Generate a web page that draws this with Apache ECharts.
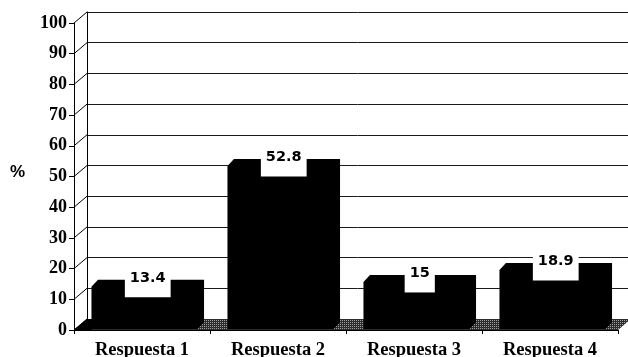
<!DOCTYPE html>
<html>
<head>
<meta charset="utf-8">
<script src="https://cdn.jsdelivr.net/npm/echarts@6/dist/echarts.min.js"></script>
<style>
  html, body { margin: 0; padding: 0; background: #fff; }
  #chart { width: 628px; height: 357px; }
</style>
</head>
<body>
<div id="chart"></div>
<script>
// Answers and their share in percent
const categories = ['Respuesta 1', 'Respuesta 2', 'Respuesta 3', 'Respuesta 4'];
const percents = [13.4, 52.8, 15, 18.9];
const percentLabels = ['13.4', '52.8', '15', '18.9'];
const yTicks = [0, 10, 20, 30, 40, 50, 60, 70, 80, 90, 100];

// Pseudo-3D projection: offset from the front plane to the back wall,
// and depth of each block.
const WALL_DX = 13, WALL_DY = -11;
const BAR_DX = 6.5, BAR_DY = -7;

function floorPattern() {
  const c = document.createElement('canvas');
  c.width = 2; c.height = 2;
  const g = c.getContext('2d');
  g.fillStyle = '#2c2c2c';
  g.fillRect(0, 0, 2, 2);
  g.fillStyle = '#a0a0a0';
  g.fillRect(0, 0, 1, 1);
  return c;
}

const chart = echarts.init(document.getElementById('chart'), null, { renderer: 'canvas' });

const serifBold = { fontFamily: '"Liberation Serif", "Times New Roman", serif', fontWeight: 'bold', color: '#000' };

function barFrontLeft(api, i) {
  const c = api.coord([i, 0]);
  const bw = api.size([1, 0])[0];
  const w = bw * 0.78;
  return { left: c[0] - w / 2 + 2.5, width: w, base: c[1] };
}

const option = {
  animation: false,
  backgroundColor: '#fff',
  grid: [
    { left: 74, right: 10, top: 23, bottom: 27, outerBoundsMode: 'none', containLabel: false },   // front plane
    { left: 87, right: 0, top: 12, bottom: 38, outerBoundsMode: 'none', containLabel: false }     // back wall
  ],
  xAxis: [
    {
      type: 'category', gridIndex: 0, data: categories,
      axisLine: { show: true, lineStyle: { color: '#000', width: 1 } },
      axisTick: { show: true, interval: 0, length: 4, lineStyle: { color: '#000' } },
      axisLabel: Object.assign({ fontSize: 18.5, margin: 11, interval: 0 }, serifBold),
      splitLine: { show: false }
    },
    {
      type: 'category', gridIndex: 1, data: categories, show: false
    }
  ],
  yAxis: [
    {
      type: 'value', gridIndex: 0, min: 0, max: 100, interval: 10,
      axisLine: { show: true, lineStyle: { color: '#000', width: 1 } },
      axisTick: { show: true, length: 5, lineStyle: { color: '#000' } },
      axisLabel: Object.assign({ fontSize: 18, margin: 7 }, serifBold),
      splitLine: { show: false }
    },
    {
      type: 'value', gridIndex: 1, min: 0, max: 100, interval: 10,
      axisLine: { show: true, lineStyle: { color: '#000', width: 1 } },
      axisTick: { show: false },
      axisLabel: { show: false },
      splitLine: { show: true, lineStyle: { color: '#1a1a1a', width: 1 } }
    }
  ],
  graphic: [
    {
      type: 'text', left: 10, top: 164,
      style: { text: '%', font: 'bold 17px "Liberation Sans", Arial, sans-serif', fill: '#000' }
    }
  ],
  series: [
    {
      // floor of the chart box
      type: 'custom', name: 'floor', xAxisIndex: 0, yAxisIndex: 0,
      data: [[0, 0]],
      z: 1,
      renderItem: function (params, api) {
        const cs = params.coordSys;
        const y0 = api.coord([0, 0])[1];
        const x0 = cs.x, x1 = cs.x + cs.width;
        const first = barFrontLeft(api, 0);
        return {
          type: 'group',
          children: [
            {
              type: 'polygon',
              shape: { points: [[x0, y0], [x1, y0], [x1 + WALL_DX, y0 + WALL_DY], [x0 + WALL_DX, y0 + WALL_DY]] },
              style: { fill: { image: floorPattern(), repeat: 'repeat' }, stroke: null }
            },
            {
              type: 'polygon',
              shape: { points: [[x0, y0], [first.left, y0], [first.left + BAR_DX, y0 + WALL_DY], [x0 + WALL_DX, y0 + WALL_DY]] },
              style: { fill: '#000' }
            }
          ]
        };
      }
    },
    {
      // edges joining the front value axis to the back wall
      type: 'custom', name: 'wallEdges', xAxisIndex: 0, yAxisIndex: 0,
      data: yTicks.map(function (v) { return [0, v]; }),
      z: 2,
      renderItem: function (params, api) {
        const x0 = params.coordSys.x;
        const y = api.coord([0, api.value(1)])[1];
        return {
          type: 'line',
          shape: { x1: x0, y1: y, x2: x0 + WALL_DX, y2: y + WALL_DY },
          style: { stroke: '#000', lineWidth: 1 }
        };
      }
    },
    {
      // blocks with their value tags
      type: 'custom', name: 'percent', xAxisIndex: 0, yAxisIndex: 0,
      data: percents.map(function (v, i) { return [i, v]; }),
      z: 3,
      renderItem: function (params, api) {
        const i = api.value(0);
        const v = api.value(1);
        const f = barFrontLeft(api, i);
        const top = api.coord([i, v])[1] - 2;
        const bottom = f.base - 1;
        const l = f.left, r = f.left + f.width;
        const silTop = top + BAR_DY;
        const cx = (l + r + BAR_DX) / 2;
        const textCenter = silTop - 1.5;
        return {
          type: 'group',
          children: [
            {
              type: 'polygon',
              shape: {
                points: [
                  [l, bottom], [l, top], [l + BAR_DX, silTop],
                  [r + BAR_DX, silTop], [r + BAR_DX, bottom + BAR_DY], [r, bottom]
                ]
              },
              style: { fill: '#000', stroke: null }
            },
            {
              type: 'text',
              z2: 10,
              style: {
                text: percentLabels[params.dataIndex],
                x: cx, y: textCenter - 8,
                align: 'center', verticalAlign: 'top',
                font: 'bold 14.5px "DejaVu Sans", Verdana, sans-serif',
                lineHeight: 14,
                fill: '#000',
                backgroundColor: '#fff',
                padding: [1, 5, 12, 5]
              }
            }
          ]
        };
      }
    }
  ]
};

chart.setOption(option);
</script>
</body>
</html>
